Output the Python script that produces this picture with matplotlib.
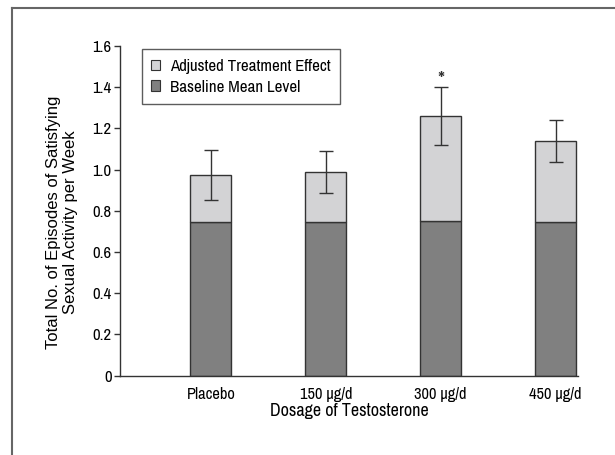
import matplotlib
matplotlib.use('Agg')
import matplotlib.pyplot as plt
from matplotlib.patches import Patch
from matplotlib.lines import Line2D
import numpy as np

# Data
dosages = ['Placebo', '150 µg/d', '300 µg/d', '450 µg/d']
baseline = [0.746, 0.747, 0.750, 0.746]
totals = [0.972, 0.987, 1.259, 1.139]
err_low = [0.121, 0.101, 0.141, 0.100]
err_high = [0.125, 0.102, 0.143, 0.102]
star_level = 1.435

light = '#d3d3d5'
dark = '#808080'
edge = '#333333'

plt.rcParams['font.family'] = ['Archivo Narrow', 'DejaVu Sans']
plt.rcParams['font.size'] = 12

fig = plt.figure(figsize=(6.15, 4.55), dpi=100)
ax = fig.add_axes([0.195, 0.1747, 0.745, 0.7242])

x = np.arange(len(dosages))
effect = [t - b for t, b in zip(totals, baseline)]
width = 0.357

ax.bar(x, baseline, width, color=dark, edgecolor=edge, linewidth=1)
ax.bar(x, effect, width, bottom=baseline, color=light, edgecolor=edge, linewidth=1)
ax.errorbar(x, totals, yerr=[err_low, err_high], fmt='none', ecolor=edge,
            elinewidth=1, capsize=4.7, capthick=1)

# significance marker over 300 ug/d
ax.text(x[2], star_level, '*', ha='center', va='center', fontsize=16, color=edge)

ax.set_xlim(-0.791, 3.195)
ax.set_ylim(0, 1.6)
ax.set_yticks([0, 0.2, 0.4, 0.6, 0.8, 1.0, 1.2, 1.4, 1.6])
ax.set_yticklabels(['0', '0.2', '0.4', '0.6', '0.8', '1.0', '1.2', '1.4', '1.6'])
ax.set_xticks(x)
ax.set_xticklabels(dosages, fontsize=11.8)
ax.tick_params(axis='x', length=0, pad=8)
ax.tick_params(axis='y', length=4, width=1, color=edge, pad=2)

for side in ['top', 'right']:
    ax.spines[side].set_visible(False)
for side in ['left', 'bottom']:
    ax.spines[side].set_color(edge)
    ax.spines[side].set_linewidth(1)

ax.set_xlabel('Dosage of Testosterone', fontsize=13, labelpad=1)
ax.set_ylabel('Total No. of Episodes of Satisfying\nSexual Activity per Week',
              family=['Liberation Sans', 'DejaVu Sans'], fontsize=12, linespacing=1.15)
ax.yaxis.set_label_coords(-0.092, 0.466)

handles = [Patch(facecolor=light, edgecolor=edge, linewidth=0.8),
           Patch(facecolor=dark, edgecolor=edge, linewidth=0.8)]
leg = ax.legend(handles, ['Adjusted Treatment Effect', 'Baseline Mean Level'],
                loc='upper left', bbox_to_anchor=(141.7 / 615, 1 - 49.3 / 455),
                bbox_transform=fig.transFigure, fancybox=False, fontsize=12.2,
                handlelength=0.55, handleheight=0.55, handletextpad=0.55,
                labelspacing=0.35, borderpad=0.55, borderaxespad=0)
leg.get_frame().set_edgecolor(edge)
leg.get_frame().set_linewidth(1)

# outer frame (top and left edges)
fig.add_artist(Line2D([12 / 615, 12 / 615], [0, 1 - 8 / 455], color='#666666', linewidth=1.5))
fig.add_artist(Line2D([12 / 615, 1], [1 - 8 / 455, 1 - 8 / 455], color='#666666', linewidth=1.5))

fig.savefig('out.png', dpi=100)
